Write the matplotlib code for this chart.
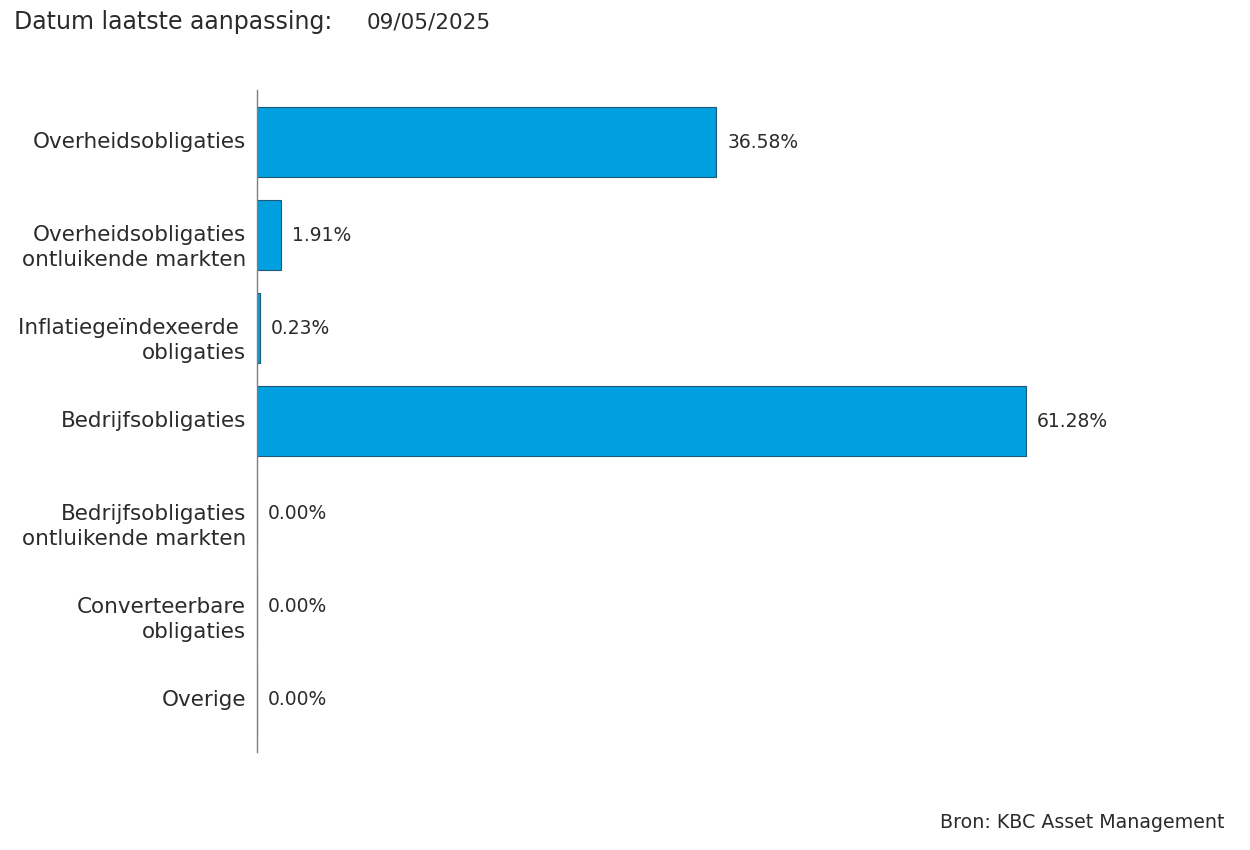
import matplotlib.pyplot as plt

plt.rcParams['font.family'] = ['DejaVu Sans']

categories = ['Overheidsobligaties',
              'Overheidsobligaties\nontluikende markten',
              'Inflatiegeïndexeerde \nobligaties',
              'Bedrijfsobligaties',
              'Bedrijfsobligaties\nontluikende markten',
              'Converteerbare\nobligaties',
              'Overige']
values = [36.58, 1.91, 0.23, 61.28, 0.00, 0.00, 0.00]
value_labels = ['36.58%', '1.91%', '0.23%', '61.28%', '0.00%', '0.00%', '0.00%']

text_color = '#2b2b2b'

fig = plt.figure(figsize=(12.5, 8.5), dpi=100)
ax = fig.add_axes([257 / 1250, 1 - 752 / 850, (1200 - 257) / 1250, (752 - 90) / 850])

pos = list(range(len(categories)))
ax.barh(pos, values, height=0.75, color='#009fdf', edgecolor='#1d5a78', linewidth=0.8)
ax.set_xlim(0, (1200 - 257) / 12.55)
ax.set_ylim(len(categories) - 0.44, -0.56)

for p, v, lab in zip(pos, values, value_labels):
    ax.annotate(lab, (v, p), xytext=(8, 0), textcoords='offset points',
                va='center', ha='left', fontsize=13.5, color=text_color)

# category labels: first line centred on the bar, second line below it
for p, cat in zip(pos, categories):
    ax.annotate(cat, (0, p), xytext=(-8, 7.4), textcoords='offset points',
                va='top', ha='right', fontsize=15.5, color=text_color,
                linespacing=1.32, annotation_clip=False)

ax.set_yticks([])
ax.set_xticks([])

for s in ['top', 'right', 'bottom']:
    ax.spines[s].set_visible(False)
ax.spines['left'].set_color('#7f7f7f')
ax.spines['left'].set_linewidth(1)

fig.text(14 / 1250, 1 - 22 / 850, 'Datum laatste aanpassing:', fontsize=17, color=text_color, va='center', ha='left')
fig.text(367 / 1250, 1 - 22 / 850, '09/05/2025', fontsize=15.5, color=text_color, va='center', ha='left')
fig.text(1225 / 1250, 1 - 823 / 850, 'Bron: KBC Asset Management', fontsize=13.7, color=text_color, va='center', ha='right')

fig.savefig('out.png', dpi=100)
